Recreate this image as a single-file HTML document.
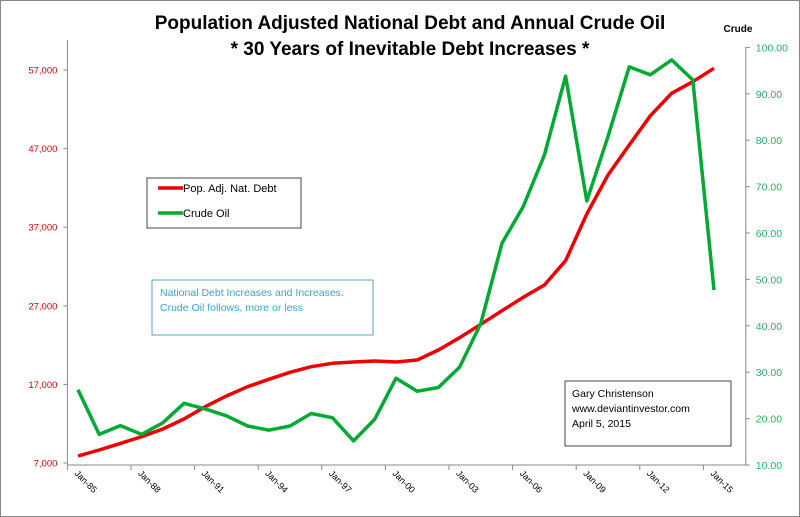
<!DOCTYPE html>
<html><head><meta charset="utf-8"><style>
body{margin:0;background:#fff}
svg{display:block;font-family:"Liberation Sans",sans-serif}
</style></head><body>
<svg id="chart" width="800" height="517" viewBox="0 0 800 517" xmlns="http://www.w3.org/2000/svg">
<rect x="0.5" y="0.5" width="799" height="516" fill="#fff" stroke="#888"/>
<text x="410" y="29" text-anchor="middle" font-size="19" font-weight="bold">Population Adjusted National Debt  and Annual Crude Oil</text>
<text x="410" y="55" text-anchor="middle" font-size="19" font-weight="bold">* 30 Years of Inevitable Debt Increases *</text>
<text x="738" y="32" text-anchor="middle" font-size="10" font-weight="bold">Crude</text>
<g id="axes"></g>
<g id="series"></g>
<g>
<rect x="147" y="178" width="154" height="50" fill="#fff" stroke="#444"/>
<line x1="158" y1="188" x2="183" y2="188" stroke="#e00" stroke-width="3.5"/>
<text x="183" y="192" font-size="11">Pop. Adj. Nat. Debt</text>
<line x1="158" y1="213" x2="183" y2="213" stroke="#0a3" stroke-width="3.5"/>
<text x="183" y="217" font-size="11">Crude Oil</text>
</g>
<g>
<rect x="152" y="280" width="221" height="55" fill="#fff" stroke="#5aa0c8"/>
<text x="160" y="296" font-size="10.5" fill="#3aa6d0">National Debt Increases and Increases.</text>
<text x="160" y="311" font-size="10.5" fill="#3aa6d0">Crude Oil follows, more or less</text>
</g>
<g>
<rect x="565" y="381" width="166" height="65" fill="#fff" stroke="#444"/>
<text x="572" y="397" font-size="10.5">Gary Christenson</text>
<text x="572" y="412" font-size="10.5">www.deviantinvestor.com</text>
<text x="572" y="427" font-size="10.5">April 5, 2015</text>
</g>
</svg>
<script>
const categories=["Jan-85","Jan-86","Jan-87","Jan-88","Jan-89","Jan-90","Jan-91","Jan-92","Jan-93","Jan-94","Jan-95","Jan-96","Jan-97","Jan-98","Jan-99","Jan-00","Jan-01","Jan-02","Jan-03","Jan-04","Jan-05","Jan-06","Jan-07","Jan-08","Jan-09","Jan-10","Jan-11","Jan-12","Jan-13","Jan-14","Jan-15"];
const debtValues=[7890,8650,9500,10350,11330,12600,14160,15520,16710,17650,18540,19250,19680,19850,19980,19850,20100,21380,22940,24650,26380,28080,29650,32740,38680,43640,47460,51190,54030,55510,57220];
const oilValues=[26.2,16.6,18.5,16.6,19.1,23.3,22.1,20.6,18.4,17.5,18.4,21.1,20.2,15.2,19.9,28.7,25.9,26.7,31.1,40.5,57.8,65.7,76.8,93.8,66.9,80.8,95.8,94.1,97.3,93.0,47.7];
const leftTicks=[7000,17000,27000,37000,47000,57000];
const leftTickLabels=["7,000","17,000","27,000","37,000","47,000","57,000"];
const rightTicks=[10,20,30,40,50,60,70,80,90,100];
const rightTickLabels=["10.00","20.00","30.00","40.00","50.00","60.00","70.00","80.00","90.00","100.00"];

const NS="http://www.w3.org/2000/svg";
const X0=67.4,BW=21.2,NB=32,YB=465;
const xBand=i=>X0+i*BW;
const xC=i=>X0+(i+0.5)*BW;
const yL=v=>463-(v-7000)/10000*78.6;
const yR=v=>465-(v-10)/10*46.4;
function mk(tag,attrs,parent){const e=document.createElementNS(NS,tag);for(const k in attrs)e.setAttribute(k,attrs[k]);parent.appendChild(e);return e;}
const axes=document.getElementById('axes'),series=document.getElementById('series');
const xr=X0+NB*BW;
let a=mk('line',{x1:X0,y1:40,x2:X0,y2:YB,stroke:'#888'},axes);


a=mk('line',{x1:X0,y1:YB,x2:xr,y2:YB,stroke:'#888'},axes);


a=mk('line',{x1:xr,y1:47,x2:xr,y2:YB,stroke:'#888'},axes);


for(let i=0;i<=NB;i+=3){mk('line',{x1:xBand(i),y1:YB,x2:xBand(i),y2:YB+5,stroke:'#888'},axes);}
categories.forEach((c,i)=>{if(i%3)return;const px=xC(i)-4,py=YB+9;const t=mk('text',{x:px,y:py,'font-size':9,'text-anchor':'start',transform:`rotate(45 ${px} ${py})`},axes);t.textContent=c;

});
leftTicks.forEach((v,i)=>{mk('line',{x1:X0-4,y1:yL(v),x2:X0,y2:yL(v),stroke:'#888'},axes);const t=mk('text',{x:X0-10,y:yL(v)+3.5,'font-size':9.5,'text-anchor':'end',fill:'#d00'},axes);t.textContent=leftTickLabels[i];

});
rightTicks.forEach((v,i)=>{mk('line',{x1:xr,y1:yR(v),x2:xr+4,y2:yR(v),stroke:'#888'},axes);const t=mk('text',{x:xr+10,y:yR(v)+4,'font-size':10.5,fill:'#2bb060'},axes);t.textContent=rightTickLabels[i];

});
const pd=debtValues.map((v,i)=>(i?'L':'M')+xC(i).toFixed(1)+','+yL(v).toFixed(1)).join('');
const po=oilValues.map((v,i)=>(i?'L':'M')+xC(i).toFixed(1)+','+yR(v).toFixed(1)).join('');
const l1=mk('path',{d:pd,fill:'none',stroke:'#e00',"stroke-width":3.5,"stroke-linejoin":'round'},series);


const l2=mk('path',{d:po,fill:'none',stroke:'#0a3',"stroke-width":3.5,"stroke-linejoin":'round'},series);


</script>
</body></html>
